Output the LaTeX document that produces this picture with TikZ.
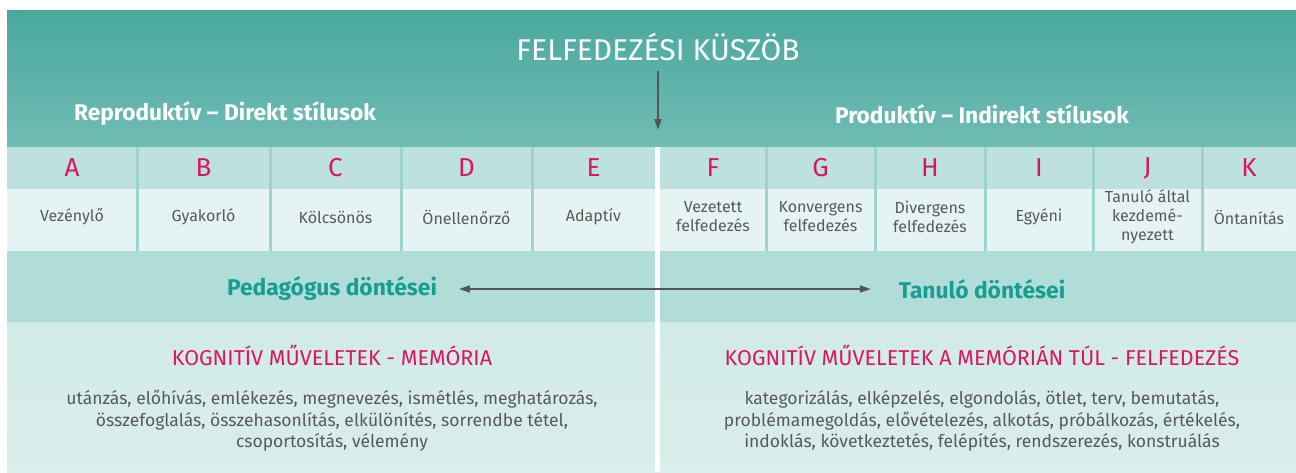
\documentclass[tikz,border=0pt]{standalone}
\usepackage{fontspec}
\setmainfont{Fira Sans}
\usetikzlibrary{arrows.meta}
\definecolor{headtop}{HTML}{4AA89E}
\definecolor{headbot}{HTML}{70BCB4}
\definecolor{letterrow}{HTML}{BDE2DE}
\definecolor{namerow}{HTML}{E5F4F2}
\definecolor{bandrow}{HTML}{B1DDD9}
\definecolor{basetop}{HTML}{D1EBE8}
\definecolor{basebot}{HTML}{DAEEEB}
\definecolor{colsep}{HTML}{9DD4CE}
\definecolor{crimson}{HTML}{DC1563}
\definecolor{tealtext}{HTML}{179E90}
\definecolor{graytext}{HTML}{58595B}
\definecolor{arrowgray}{HTML}{555555}

\begin{document}
\begin{tikzpicture}[x=1pt, y=-1pt,
    every node/.style={inner sep=0pt, outer sep=0pt},
    letter/.style={text=crimson, font=\fontsize{26}{26}\selectfont},
    stylename/.style={text=graytext, align=center, font=\fontsize{16}{19}\selectfont},
    sidehead/.style={text=white, font=\bfseries\fontsize{22.7}{22.7}\selectfont},
    decision/.style={text=tealtext, font=\bfseries\fontsize{22.8}{22.8}\selectfont},
    cogtitle/.style={text=crimson, font=\fontsize{21.5}{21.5}\selectfont},
    cogbody/.style={text=graytext, align=center, font=\fontsize{17.5}{21.5}\selectfont},
    arr/.style={draw=arrowgray, line width=1.4pt, -{Triangle[length=11pt, width=7pt]}},
    dblarr/.style={draw=arrowgray, line width=1.4pt, {Triangle[length=11pt, width=7pt]}-{Triangle[length=11pt, width=7pt]}}]
    \useasboundingbox (0,0) rectangle (1296,472);
    % bands
    \shade[top color=headtop, bottom color=headbot] (7,10) rectangle (1296,147);
    \fill[letterrow] (7,147) rectangle (1296,189);
    \fill[namerow] (7,189) rectangle (1296,251);
    \fill[bandrow] (7,251) rectangle (1296,322);
    \shade[top color=basetop, bottom color=basebot] (7,322) rectangle (1296,472);
    \foreach \x in {137,270,401,532,766,875,985,1093,1202} {\draw[colsep, line width=3pt] (\x,147) -- (\x,251);}
    \fill[white] (655,147) rectangle (660,472);
    % header
    \node[text=white, font=\fontsize{30}{30}\selectfont] (title) at (658,47) {FELFEDEZÉSI KÜSZÖB};
    \coordinate (thresh) at (658,130);
    \draw[arr] ([yshift=-10pt]title.south) -- (thresh);
    \node[sidehead] (repro) at (225,114) {Reproduktív – Direkt stílusok};
    \node[sidehead] (produ) at (982,114) {Produktív – Indirekt stílusok};
    % styles A-K
    \foreach \l/\n/\a/\b in {A/Vezénylő/7/137, B/Gyakorló/137/270, C/Kölcsönös/270/401, D/Önellenőrző/401/532, E/Adaptív/532/655,
        F/Vezetett\\felfedezés/660/766, G/Konvergens\\felfedezés/766/875, H/Divergens\\felfedezés/875/985, I/Egyéni/985/1093,
        J/Tanuló által\\kezdemé-\\nyezett/1093/1202, K/Öntanítás/1202/1296} {
        \node[letter] (let-\l) at ({(\a+\b)/2},168) {\l};
        \node[stylename] (name-\l) at ({(\a+\b)/2},217) {\n};
    }
    % decisions
    \node[decision] (ped) at (332,289) {Pedagógus döntései};
    \node[decision] (tan) at (982,289) {Tanuló döntései};
    \draw[dblarr] ([xshift=22pt]ped.east) -- ([xshift=-28pt]tan.west);
    % cognitive operations
    \node[cogtitle] (memo) at (332,355) {KOGNITÍV MŰVELETEK - MEMÓRIA};
    \node[cogbody] (memolist) at (332,421) {utánzás, előhívás, emlékezés, megnevezés, ismétlés, meghatározás,\\összefoglalás, összehasonlítás, elkülönítés, sorrendbe tétel,\\csoportosítás, vélemény};
    \node[cogtitle] (disc) at (982,355) {KOGNITÍV MŰVELETEK A MEMÓRIÁN TÚL - FELFEDEZÉS};
    \node[cogbody] (disclist) at (982,421) {kategorizálás, elképzelés, elgondolás, ötlet, terv, bemutatás,\\problémamegoldás, elővételezés, alkotás, próbálkozás, értékelés,\\indoklás, következtetés, felépítés, rendszerezés, konstruálás};
\end{tikzpicture}
\end{document}
